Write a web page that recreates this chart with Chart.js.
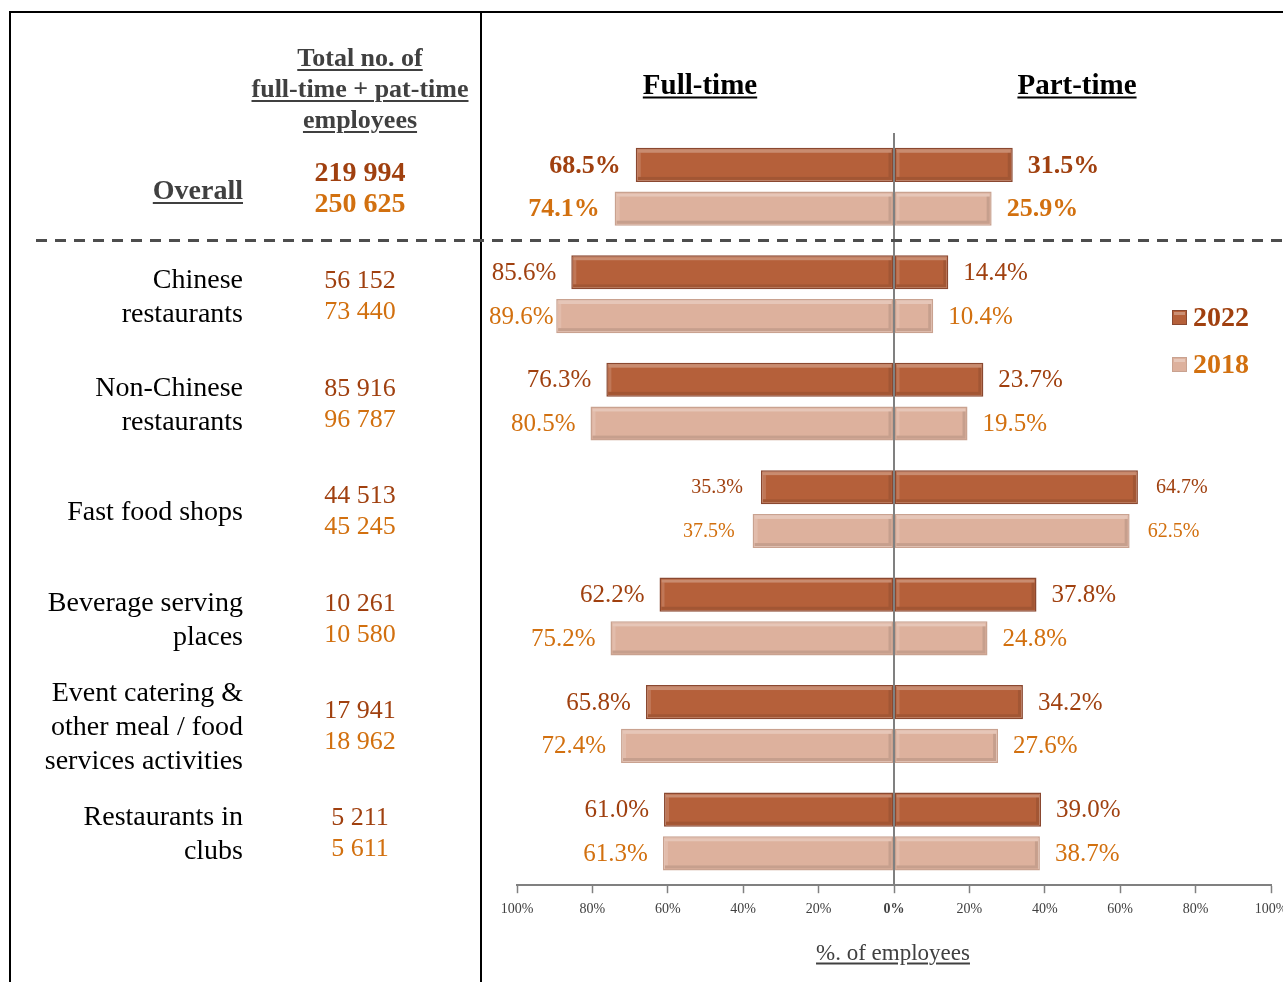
<!DOCTYPE html>
<html>
<head>
<meta charset="utf-8">
<script src="https://cdn.jsdelivr.net/npm/chart.js@4/dist/chart.umd.min.js"></script>
<style>
  html, body { margin: 0; padding: 0; background: #fff; }
  body { width: 1283px; height: 982px; overflow: hidden; position: relative; font-family: "Liberation Serif", "Times New Roman", serif; }
  #chart { position: absolute; left: 0; top: 0; z-index: 2; }
  .line { position: absolute; background: #000; z-index: 1; }
  .txt { position: absolute; white-space: nowrap; line-height: 1; z-index: 3; }
  .ul { text-decoration: underline; text-decoration-thickness: 2px; text-underline-offset: 3px; }
</style>
</head>
<body>
<div class="line" style="left:9px;top:11px;width:1274px;height:2px"></div>
<div class="line" style="left:9px;top:11px;width:2px;height:971px"></div>
<div class="line" style="left:480px;top:11px;width:2px;height:971px"></div>
<canvas id="chart" width="1300" height="982"></canvas>
<div id="labels"></div>
<script>
// ---- data ----
const categories = [
    ['Overall'],
    ['Chinese', 'restaurants'],
    ['Non-Chinese', 'restaurants'],
    ['Fast food shops'],
    ['Beverage serving', 'places'],
    ['Event catering &', 'other meal / food', 'services activities'],
    ['Restaurants in', 'clubs']
];
const fullTime2022 = [68.5, 85.6, 76.3, 35.3, 62.2, 65.8, 61.0];
const partTime2022 = [31.5, 14.4, 23.7, 64.7, 37.8, 34.2, 39.0];
const fullTime2018 = [74.1, 89.6, 80.5, 37.5, 75.2, 72.4, 61.3];
const partTime2018 = [25.9, 10.4, 19.5, 62.5, 24.8, 27.6, 38.7];
const total2022 = ['219 994', '56 152', '85 916', '44 513', '10 261', '17 941', '5 211'];
const total2018 = ['250 625', '73 440', '96 787', '45 245', '10 580', '18 962', '5 611'];
const xTicks = [-100, -80, -60, -40, -20, 0, 20, 40, 60, 80, 100];
const years = ['2022', '2018'];

const COLOR_2022 = '#B5603A';
const BORDER_2022 = '#8A4830';
const COLOR_2018 = '#DDB19D';
const BORDER_2018 = '#C9A290';
const TEXT_2022 = '#A0400F';
const TEXT_2018 = '#D2700F';

// Full-time bars go left (negative), part-time bars go right
function makeSet(label, values, stack, fill, border, text, sign) {
    return {
        label: label,
        data: values.map(v => sign * v),
        stack: stack,
        backgroundColor: fill,
        borderColor: border,
        borderWidth: 1.5,
        borderSkipped: false,
        labelColor: text,
        categoryPercentage: 0.815,
        barPercentage: 0.78
    };
}

// Bevel highlight on bars, like the office chart style
const bevelPlugin = {
    id: 'bevel',
    afterDatasetsDraw(chart) {
        const ctx = chart.ctx;
        ctx.save();
        chart.data.datasets.forEach((ds, di) => {
            chart.getDatasetMeta(di).data.forEach(bar => {
                const p = bar.getProps(['x', 'y', 'base', 'height'], true);
                const left = Math.min(p.x, p.base), right = Math.max(p.x, p.base);
                const top = p.y - p.height / 2, bottom = p.y + p.height / 2;
                const w = right - left;
                if (w < 8) return;
                ctx.fillStyle = 'rgba(255,255,255,0.28)';
                ctx.fillRect(left + 2, top + 2, w - 4, 3);
                ctx.fillStyle = 'rgba(255,255,255,0.15)';
                ctx.fillRect(left + 2, top + 5, 3, p.height - 10);
                ctx.fillStyle = 'rgba(0,0,0,0.10)';
                ctx.fillRect(left + 2, bottom - 5, w - 4, 3);
                ctx.fillRect(right - 5, top + 5, 3, p.height - 10);
            });
        });
        // zero line on top of bars
        const x0 = chart.scales.x.getPixelForValue(0);
        ctx.strokeStyle = '#808080';
        ctx.lineWidth = 2;
        ctx.beginPath();
        ctx.moveTo(x0, chart.chartArea.top);
        ctx.lineTo(x0, chart.chartArea.bottom);
        ctx.stroke();
        ctx.restore();
    }
};

// Value labels next to bar ends
const barLabelPlugin = {
    id: 'barLabels',
    afterDatasetsDraw(chart) {
        const ctx = chart.ctx;
        const minLeft = chart.chartArea.left - 28;
        ctx.save();
        ctx.textBaseline = 'middle';
        chart.data.datasets.forEach((ds, di) => {
            chart.getDatasetMeta(di).data.forEach((bar, i) => {
                const v = ds.data[i];
                let font = '25px "Liberation Serif"';
                if (i === 0) font = 'bold 26px "Liberation Serif"';
                if (i === 3) font = '20px "Liberation Serif"';
                ctx.font = font;
                ctx.fillStyle = ds.labelColor;
                const gap = i === 3 ? 18 : 15;
                const txt = Math.abs(v).toFixed(1) + '%';
                if (v < 0) {
                    ctx.textAlign = 'right';
                    // keep the label inside the chart panel
                    const w = ctx.measureText(txt).width;
                    const x = Math.max(bar.x - gap, minLeft + w);
                    ctx.fillText(txt, x, bar.y + 1);
                } else {
                    ctx.textAlign = 'left';
                    ctx.fillText(txt, bar.x + gap, bar.y + 1);
                }
            });
        });
        ctx.restore();
    }
};

// Dashed separator under "Overall" and the year legend
const decorPlugin = {
    id: 'decor',
    afterDraw(chart) {
        const ctx = chart.ctx;
        const y = chart.scales.y;
        const sepY = (y.getPixelForValue(0) + y.getPixelForValue(1)) / 2;
        ctx.save();
        ctx.strokeStyle = '#4D4D4D';
        ctx.lineWidth = 3;
        ctx.setLineDash([11, 8]);
        ctx.beginPath();
        ctx.moveTo(36, sepY);
        ctx.lineTo(1300, sepY);
        ctx.stroke();
        ctx.setLineDash([]);

        const items = [
            { text: years[0], fill: COLOR_2022, border: BORDER_2022, color: TEXT_2022, y: 318 },
            { text: years[1], fill: COLOR_2018, border: BORDER_2018, color: TEXT_2018, y: 365 }
        ];
        items.forEach(it => {
            ctx.fillStyle = it.fill;
            ctx.strokeStyle = it.border;
            ctx.lineWidth = 1;
            ctx.fillRect(1172, it.y - 8, 15, 15);
            ctx.strokeRect(1172.5, it.y - 7.5, 14, 14);
            ctx.fillStyle = 'rgba(255,255,255,0.3)';
            ctx.fillRect(1174, it.y - 6, 11, 3);
            ctx.font = 'bold 28px "Liberation Serif"';
            ctx.fillStyle = it.color;
            ctx.textAlign = 'left';
            ctx.textBaseline = 'middle';
            ctx.fillText(it.text, 1193, it.y + 1);
        });
        ctx.restore();
    }
};

const chart = new Chart(document.getElementById('chart'), {
    type: 'bar',
    data: {
        labels: categories.map(c => c.join(' ')),
        datasets: [
            makeSet('Full-time 2022', fullTime2022, '2022', COLOR_2022, BORDER_2022, TEXT_2022, -1),
            makeSet('Part-time 2022', partTime2022, '2022', COLOR_2022, BORDER_2022, TEXT_2022, 1),
            makeSet('Full-time 2018', fullTime2018, '2018', COLOR_2018, BORDER_2018, TEXT_2018, -1),
            makeSet('Part-time 2018', partTime2018, '2018', COLOR_2018, BORDER_2018, TEXT_2018, 1)
        ]
    },
    options: {
        indexAxis: 'y',
        responsive: false,
        animation: false,
        devicePixelRatio: 1,
        layout: {
            padding: { left: 517, right: 29, top: 133, bottom: 56 }
        },
        plugins: {
            legend: { display: false },
            tooltip: { enabled: false }
        },
        scales: {
            y: {
                display: false,
                stacked: true
            },
            x: {
                stacked: true,
                min: -100,
                max: 100,
                afterBuildTicks: axis => { axis.ticks = xTicks.map(v => ({ value: v })); },
                border: { display: true, color: '#808080', width: 2 },
                grid: {
                    drawOnChartArea: false,
                    drawTicks: true,
                    tickLength: 8,
                    tickColor: '#808080',
                    tickWidth: 1.5
                },
                ticks: {
                    autoSkip: false,
                    maxRotation: 0,
                    padding: 8,
                    color: '#404040',
                    font: ctx => ({
                        family: '"Liberation Serif"',
                        size: 14,
                        weight: ctx.tick && ctx.tick.value === 0 ? 'bold' : 'normal'
                    }),
                    callback: v => Math.abs(v) + '%'
                }
            }
        }
    },
    plugins: [bevelPlugin, barLabelPlugin, decorPlugin]
});

// ---- HTML text: headers and left-hand table ----
const holder = document.getElementById('labels');
function place(text, x, y, opts) {
    const d = document.createElement('div');
    d.className = 'txt' + (opts.underline ? ' ul' : '');
    d.textContent = text;
    d.style.fontSize = opts.size + 'px';
    d.style.fontWeight = opts.bold ? 'bold' : 'normal';
    d.style.color = opts.color || '#000';
    d.style.top = y + 'px';
    let tx = '-50%';
    if (opts.align === 'right') { d.style.right = (1283 - x) + 'px'; tx = '0'; }
    else { d.style.left = x + 'px'; }
    if (opts.align === 'left') tx = '0';
    d.style.transform = 'translate(' + tx + ', -50%)';
    holder.appendChild(d);
}

const head = { size: 26, bold: true, color: '#404040', underline: true };
place('Total no. of', 360, 58, head);
place('full-time + pat-time', 360, 89, head);
place('employees', 360, 120, head);
place('Full-time', 700, 84, { size: 29, bold: true, color: '#000', underline: true });
place('Part-time', 1077, 84, { size: 29, bold: true, color: '#000', underline: true });
place('%. of employees', 893, 952, { size: 23, color: '#404040', underline: true });

const yScale = chart.scales.y;
categories.forEach((lines, i) => {
    const cy = yScale.getPixelForValue(i);
    if (i === 0) {
        place(lines[0], 243, cy + 3, { size: 28, bold: true, color: '#404040', underline: true, align: 'right' });
        place(total2022[i], 360, cy - 15, { size: 28, bold: true, color: TEXT_2022 });
        place(total2018[i], 360, cy + 16, { size: 28, bold: true, color: TEXT_2018 });
        return;
    }
    lines.forEach((t, k) => {
        const ly = cy + 2 + (k - (lines.length - 1) / 2) * 34;
        place(t, 243, ly, { size: 28, align: 'right' });
    });
    place(total2022[i], 360, cy - 14, { size: 26, color: TEXT_2022 });
    place(total2018[i], 360, cy + 17, { size: 26, color: TEXT_2018 });
});
</script>
</body>
</html>
